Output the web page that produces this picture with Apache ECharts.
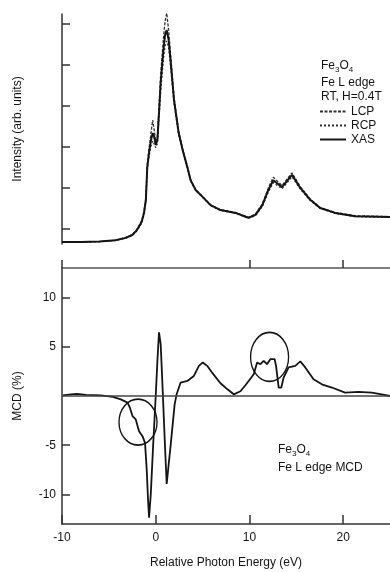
<!DOCTYPE html>
<html>
<head>
<meta charset="utf-8">
<script src="https://cdn.jsdelivr.net/npm/echarts@6/dist/echarts.min.js"></script>
<style>
  html, body { margin: 0; padding: 0; background: #fff; }
  #chart { width: 390px; height: 572px; }
</style>
</head>
<body>
<div id="chart"></div>
<script>
// top panel: XAS spectra (arb. units, one tick = 1)
const xasEnergy = [-10, -8, -6, -4.3, -3.2, -2.5, -2.0, -1.5, -1.25, -1.05, -0.9, -0.7, -0.5, -0.32, -0.16, 0, 0.18, 0.37, 0.53, 0.82, 1.0, 1.17, 1.38, 1.6, 1.95, 2.45, 2.87, 3.37, 3.72, 4.26, 4.79, 5.85, 6.91, 8.51, 9.89, 10.64, 11.38, 12.02, 12.55, 13.48, 14.54, 15.43, 16.49, 17.55, 19.15, 21.28, 25];
const xasValues = [0.05, 0.05, 0.06, 0.09, 0.15, 0.22, 0.34, 0.54, 0.76, 1.08, 1.88, 2.25, 2.54, 2.71, 2.62, 2.42, 2.54, 3.28, 3.94, 4.74, 5.11, 5.23, 4.99, 4.45, 3.52, 2.71, 2.30, 1.88, 1.56, 1.32, 1.20, 0.95, 0.83, 0.76, 0.64, 0.71, 0.95, 1.32, 1.56, 1.39, 1.69, 1.37, 1.08, 0.88, 0.76, 0.68, 0.66];
const lcpValues = [0.05, 0.05, 0.06, 0.09, 0.16, 0.23, 0.36, 0.57, 0.80, 1.14, 1.95, 2.36, 2.72, 3.03, 2.78, 2.50, 2.64, 3.42, 4.15, 5.02, 5.45, 5.64, 5.22, 4.60, 3.60, 2.76, 2.33, 1.90, 1.58, 1.33, 1.21, 0.96, 0.84, 0.77, 0.65, 0.73, 0.98, 1.37, 1.63, 1.43, 1.74, 1.40, 1.10, 0.89, 0.77, 0.69, 0.67];
const rcpValues = [0.05, 0.05, 0.06, 0.09, 0.14, 0.21, 0.32, 0.51, 0.72, 1.02, 1.81, 2.16, 2.40, 2.52, 2.48, 2.35, 2.45, 3.16, 3.76, 4.50, 4.84, 4.96, 4.80, 4.32, 3.45, 2.67, 2.27, 1.86, 1.54, 1.31, 1.19, 0.94, 0.82, 0.75, 0.63, 0.69, 0.92, 1.27, 1.50, 1.35, 1.64, 1.34, 1.06, 0.87, 0.75, 0.67, 0.65];
const intensityTicks = [0.37, 1.37, 2.37, 3.37, 4.37, 5.37];

// bottom panel: MCD (%)
const mcdEnergy = [-9.89, -9.04, -8.4, -7.45, -5.85, -4.57, -3.72, -3.01, -2.77, -2.48, -2.13, -1.78, -1.41, -1.14, -0.96, -0.82, -0.71, -0.53, -0.27, 0, 0.19, 0.35, 0.53, 0.74, 0.96, 1.17, 1.38, 1.6, 1.81, 2.02, 2.23, 2.66, 3.37, 4.07, 4.61, 5.03, 5.53, 6.06, 6.91, 7.66, 8.33, 9.04, 9.57, 10.46, 10.82, 11.17, 11.52, 11.88, 12.23, 12.69, 12.84, 13.12, 13.4, 13.65, 14.18, 14.89, 15.43, 15.96, 16.84, 17.73, 18.8, 20.21, 21.63, 23.05, 24.12, 25];
const mcdValues = [0.07, 0.17, 0.22, 0.12, 0.07, -0.08, -0.34, -0.67, -1.15, -2.04, -2.38, -3.57, -4.08, -4.76, -7.48, -10.54, -12.35, -10.03, -4.93, -0.03, 3.74, 6.47, 5.28, 0.68, -4.42, -8.94, -6.97, -4.93, -2.89, -0.85, 0.17, 1.37, 1.53, 2.04, 3.06, 3.41, 3.03, 2.32, 1.3, 0.68, 0.17, 0.48, 1.09, 2.21, 3.41, 3.23, 3.57, 3.23, 3.74, 3.74, 3.06, 0.86, 0.86, 1.88, 2.9, 3.06, 3.51, 2.9, 1.7, 1.19, 0.86, 0.35, 0.41, 0.35, 0.17, 0];
const circleCenters = [[-1.89, -2.66], [12.15, 3.97]];
const circleSizes = [[38, 46], [38, 49]];

const energyLabels = [-10, 0, 10, 20];
const topBorderTicks = [-10, 10, 20];
const mcdLabels = [-10, -5, 5, 10];

const font = "'Liberation Sans', Arial, sans-serif";
const ink = '#141414';
const axisInk = '#333';

const zip = (xs, ys) => xs.map((x, i) => [x, ys[i]]);

const chart = echarts.init(document.getElementById('chart'));

chart.setOption({
    animation: false,
    backgroundColor: '#fff',
    textStyle: { fontFamily: font },
    title: [
        {
            text: 'Fe{s|3}O{s|4}', left: 316, top: 53,
            textStyle: { fontSize: 12, fontWeight: 'normal', color: ink, fontFamily: font, lineHeight: 16,
                rich: { s: { fontSize: 8, verticalAlign: 'bottom', color: ink, fontFamily: font } } }
        },
        {
            text: 'Fe L edge\nRT, H=0.4T', left: 316, top: 71,
            textStyle: { fontSize: 12, fontWeight: 'normal', color: ink, fontFamily: font, lineHeight: 14 }
        },
        {
            text: 'Fe{s|3}O{s|4}', left: 273, top: 437,
            textStyle: { fontSize: 12, fontWeight: 'normal', color: ink, fontFamily: font, lineHeight: 16,
                rich: { s: { fontSize: 8, verticalAlign: 'bottom', color: ink, fontFamily: font } } }
        },
        {
            text: 'Fe L edge MCD', left: 273, top: 456,
            textStyle: { fontSize: 12, fontWeight: 'normal', color: ink, fontFamily: font, lineHeight: 14 }
        }
    ],
    legend: {
        data: ['LCP', 'RCP', 'XAS'],
        orient: 'vertical',
        left: 314,
        top: 100,
        itemWidth: 26,
        itemHeight: 10,
        itemGap: 1,
        itemStyle: { opacity: 0 },
        textStyle: { fontSize: 12, color: ink, fontFamily: font, lineHeight: 13 }
    },
    grid: [
        { left: 62, right: 0, top: 14, bottom: 328 },
        { left: 62, right: 0, top: 268, bottom: 48 }
    ],
    xAxis: [
        { gridIndex: 0, type: 'value', min: -10, max: 25, show: false },
        {
            gridIndex: 1, type: 'value', min: -10, max: 25, position: 'bottom',
            axisLine: { onZero: false, lineStyle: { color: axisInk, width: 1.5 } },
            axisTick: { inside: true, length: 9, customValues: energyLabels, lineStyle: { color: axisInk, width: 1.5 } },
            axisLabel: { customValues: energyLabels, fontSize: 12, color: ink, margin: 8 },
            splitLine: { show: false },
            name: 'Relative Photon Energy (eV)',
            nameLocation: 'middle',
            nameGap: 33,
            nameTextStyle: { fontSize: 12, color: ink }
        },
        {
            gridIndex: 1, type: 'value', min: -10, max: 25, position: 'top',
            axisLine: { onZero: false, lineStyle: { color: '#555', width: 1.5 } },
            axisTick: { inside: false, length: 8, customValues: topBorderTicks, lineStyle: { color: axisInk, width: 1.5 } },
            axisLabel: { show: false },
            splitLine: { show: false }
        }
    ],
    yAxis: [
        {
            gridIndex: 0, type: 'value', min: 0, max: 5.62,
            axisLine: { show: true, onZero: false, lineStyle: { color: axisInk, width: 1.5 } },
            axisTick: { show: true, inside: true, length: 8, customValues: intensityTicks, lineStyle: { color: axisInk, width: 1.5 } },
            axisLabel: { show: false },
            splitLine: { show: false },
            name: 'Intensity (arb. units)',
            nameLocation: 'middle',
            nameGap: 38,
            nameTextStyle: { fontSize: 12, color: ink }
        },
        {
            gridIndex: 1, type: 'value', min: -13, max: 13,
            axisLine: { show: true, onZero: false, lineStyle: { color: axisInk, width: 1.5 } },
            axisTick: { show: true, inside: true, length: 8, customValues: mcdLabels, lineStyle: { color: axisInk, width: 1.5 } },
            axisLabel: { customValues: mcdLabels, fontSize: 12, color: ink, margin: 6 },
            splitLine: { show: false },
            name: 'MCD (%)',
            nameLocation: 'middle',
            nameGap: 38,
            nameTextStyle: { fontSize: 12, color: ink }
        }
    ],
    series: [
        {
            name: 'LCP', type: 'line', xAxisIndex: 0, yAxisIndex: 0,
            data: zip(xasEnergy, lcpValues), symbol: 'none',
            lineStyle: { color: '#333', width: 1.3, type: [3, 1.5] }, itemStyle: { color: '#333' }
        },
        {
            name: 'RCP', type: 'line', xAxisIndex: 0, yAxisIndex: 0,
            data: zip(xasEnergy, rcpValues), symbol: 'none',
            lineStyle: { color: '#333', width: 1.3, type: [2, 2] }, itemStyle: { color: '#333' }
        },
        {
            name: 'XAS', type: 'line', xAxisIndex: 0, yAxisIndex: 0,
            data: zip(xasEnergy, xasValues), symbol: 'none',
            lineStyle: { color: ink, width: 2 }, itemStyle: { color: ink }
        },
        {
            name: 'MCD', type: 'line', xAxisIndex: 1, yAxisIndex: 1,
            data: zip(mcdEnergy, mcdValues), symbol: 'none',
            lineStyle: { color: ink, width: 1.8 },
            markLine: {
                silent: true, symbol: 'none', label: { show: false },
                lineStyle: { color: '#444', width: 1.5, type: 'solid' },
                data: [{ yAxis: 0 }]
            }
        },
        {
            name: 'circles', type: 'scatter', xAxisIndex: 1, yAxisIndex: 1,
            data: circleCenters.map((c, i) => ({ value: c, symbolSize: circleSizes[i] })),
            symbol: 'circle',
            itemStyle: { color: 'rgba(0,0,0,0)', borderColor: ink, borderWidth: 1.5, opacity: 1 }
        }
    ]
});
</script>
</body>
</html>
